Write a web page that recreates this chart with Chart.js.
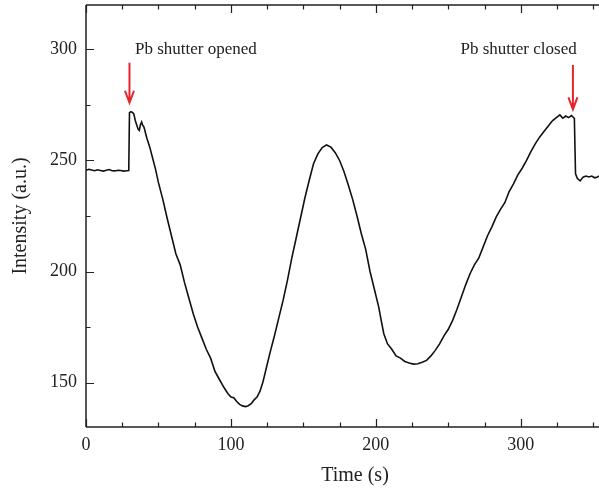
<!DOCTYPE html>
<html>
<head>
<meta charset="utf-8">
<script src="https://cdn.jsdelivr.net/npm/chart.js@4.4.0/dist/chart.umd.min.js"></script>
<style>
  body { margin: 0; background: #fff; }
  #wrap { width: 599px; height: 489px; }
</style>
</head>
<body>
<div id="wrap"><canvas id="rheed"></canvas></div>
<script>
// time (s) and intensity (a.u.)
var tiempo = [0,2,4,6,8,10,12,14,16,18,20,22,24,26,28,29.5,
  30,31,32,33,34,35,36,36.8,37.5,38.4,39,40,42,44,46,48,50,53,56,59,62,65,68,71,74,77,80,83,86,89,92,95,98,
  100,102,104,106,108,110,112,114,116,118,120,122,124.6,127,130,133,136,139,142,145,148,151,154,157,160,163,
  166,169,172,175,178,181,184,187,190,193,196,199,202,204,205.5,208,211,214,217,220,223,226,229,232,235,238,
  241,244,247,250,253,256,259,262,265,268,271,274,277,280,283,286,289,292,295,298,301,304,307,310,313,316,
  319,322,325,327,329,331,333,335,337,337.8,339,341,343,345,347,349,351,353,354];
var intensidad = [245.6,246.0,245.7,245.4,245.8,245.5,245.2,245.6,245.9,245.4,245.3,245.6,245.5,245.2,245.4,245.5,
  271.5,272,271.6,271,268,266,264,263.5,266,267.3,266,265,260,256,251,246,240,232.5,224,216,208,203,195,188,181,175,170,165,161,155,151.5,148,145,
  143.5,143.2,141.5,140.2,139.5,139.2,139.6,140.5,142.2,143.5,146,150,157,163.5,171,179,187,196,206,215,224,233,241,248.5,253,255.8,
  257,256,253.5,250,245,239,232.5,225,217,210,200,192,184,177,172,167.5,165,162,161,159.5,158.8,158.3,158.5,159.2,160,162,
  164.5,167.4,171,174,178,183,188.5,194,199,203,206,211,216,220,224.5,228,231,236,239.5,243.5,246.5,250,254,257.5,260.5,263,
  265.5,268,269.5,270.5,269,270,269.3,270.2,269,244,242,240.8,242.5,243,242.6,243,242.2,242.6,243];

var yTicks = [150, 200, 250, 300];
var yMinor = [175, 225, 275];
var xTicks = [0, 100, 200, 300];
var xMinor = [25, 50, 75, 125, 150, 175, 225, 250, 275, 325, 350];

// arrows: time, start, tip
var flechaT = [30, 336];
var flechaDesde = [294, 293];
var flechaHasta = [276, 273];
var etiquetas = ['Pb shutter opened', 'Pb shutter closed'];
var etiquetaT = [33.8, 338.6];
var etiquetaY = 300;

var puntos = tiempo.map(function(t, i){ return {x: t, y: intensidad[i]}; });

var serif = '"Liberation Serif", "Times New Roman", serif';

var marco = {
  id: 'marco',
  afterDatasetsDraw: function(chart) {
    var ctx = chart.ctx, a = chart.chartArea;
    var sx = chart.scales.x, sy = chart.scales.y;
    ctx.save();
    ctx.strokeStyle = '#222';
    ctx.lineWidth = 1.5;
    // axes lines (left, bottom, top)
    ctx.beginPath();
    ctx.moveTo(a.left, a.top); ctx.lineTo(a.left, a.bottom);
    ctx.moveTo(a.left, a.bottom); ctx.lineTo(a.right, a.bottom);
    ctx.moveTo(a.left, a.top); ctx.lineTo(a.right, a.top);
    ctx.stroke();
    // inward ticks
    ctx.lineWidth = 1.2;
    ctx.beginPath();
    xTicks.concat(xMinor).forEach(function(v){
      var len = xTicks.indexOf(v) >= 0 ? 8 : 4.5;
      var px = Math.round(sx.getPixelForValue(v)) + 0.5;
      ctx.moveTo(px, a.bottom); ctx.lineTo(px, a.bottom - len);
      ctx.moveTo(px, a.top); ctx.lineTo(px, a.top + len);
    });
    yTicks.concat(yMinor).forEach(function(v){
      var len = yTicks.indexOf(v) >= 0 ? 8 : 4.5;
      var py = Math.round(sy.getPixelForValue(v)) + 0.5;
      ctx.moveTo(a.left, py); ctx.lineTo(a.left + len, py);
    });
    ctx.stroke();

    // red arrows
    ctx.strokeStyle = '#e8232b';
    ctx.lineWidth = 2;
    flechaT.forEach(function(t, i){
      var px = sx.getPixelForValue(t);
      var y0 = sy.getPixelForValue(flechaDesde[i]);
      var y1 = sy.getPixelForValue(flechaHasta[i]);
      ctx.beginPath();
      ctx.moveTo(px, y0); ctx.lineTo(px, y1);
      ctx.moveTo(px - 4.5, y1 - 12); ctx.lineTo(px, y1); ctx.lineTo(px + 4.5, y1 - 12);
      ctx.stroke();
    });

    // annotation labels
    ctx.fillStyle = '#222';
    ctx.font = '17px ' + serif;
    ctx.textBaseline = 'middle';
    etiquetas.forEach(function(txt, i){
      ctx.textAlign = i === 0 ? 'left' : 'right';
      ctx.fillText(txt, sx.getPixelForValue(etiquetaT[i]), sy.getPixelForValue(etiquetaY));
    });

    // axis titles
    ctx.font = '20px ' + serif;
    ctx.textAlign = 'center';
    ctx.fillText('Time (s)', a.left + 269, 476);
    ctx.translate(21, (a.top + a.bottom) / 2);
    ctx.rotate(-Math.PI / 2);
    ctx.fillText('Intensity (a.u.)', 0, 0);
    ctx.restore();
  }
};

var config = {
  type: 'line',
  data: {
    datasets: [{
      data: puntos,
      borderColor: '#111',
      borderWidth: 1.6,
      pointRadius: 0,
      tension: 0,
      fill: false
    }]
  },
  options: {
    responsive: true,
    maintainAspectRatio: false,
    animation: false,
    layout: { padding: { top: 5, right: 0, left: 0, bottom: 0 } },
    plugins: { legend: { display: false }, tooltip: { enabled: false } },
    scales: {
      x: {
        type: 'linear',
        min: 0, max: 354,
        grid: { display: false, drawTicks: false },
        border: { display: false },
        afterBuildTicks: function(s){ s.ticks = xTicks.map(function(v){ return {value: v}; }); },
        afterFit: function(s){ s.height = 62; s.paddingLeft = 0; s.paddingRight = 0; },
        ticks: { font: { family: serif, size: 18 }, color: '#222', padding: 7, maxRotation: 0 }
      },
      y: {
        min: 130, max: 320,
        grid: { display: false, drawTicks: false },
        border: { display: false },
        afterBuildTicks: function(s){ s.ticks = yTicks.map(function(v){ return {value: v}; }); },
        afterFit: function(s){ s.width = 86; s.paddingTop = 0; s.paddingBottom = 0; },
        ticks: { font: { family: serif, size: 18 }, color: '#222', padding: 9 }
      }
    }
  },
  plugins: [marco]
};

window.myChart = new Chart(document.getElementById('rheed'), config);
</script>
</body>
</html>
